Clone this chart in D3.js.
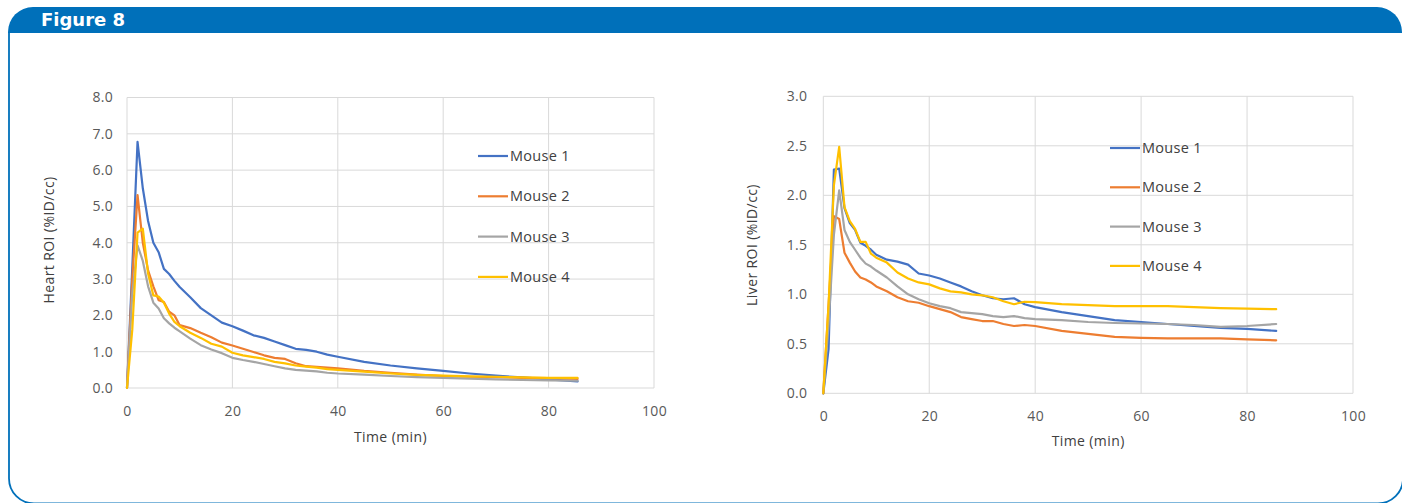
<!DOCTYPE html>
<html><head><meta charset="utf-8">
<script src="https://cdn.jsdelivr.net/npm/d3@7"></script>
<style>
html,body{margin:0;padding:0;background:#fff;}
svg{display:block;font-family:"Open Sans",Lato,sans-serif;}
</style></head>
<body><svg id="c" width="1402" height="503"></svg>
<script>
// ---- data ----
const seriesNames = ["Mouse 1", "Mouse 2", "Mouse 3", "Mouse 4"];
const seriesColors = ["#4472C4", "#ED7D31", "#A5A5A5", "#FFC000"];
const time = [0,1,2,3,4,5,6,7,8,9,10,12,14,16,18,20,22,24,26,28,30,32,34,36,38,40,45,50,55,60,65,70,75,80,85.5];

const heartMouse1 = [0,3.3,6.78,5.5,4.6,4.0,3.74,3.28,3.14,2.95,2.78,2.5,2.2,2.0,1.8,1.7,1.58,1.45,1.38,1.28,1.18,1.08,1.05,1.0,0.92,0.86,0.72,0.62,0.54,0.47,0.4,0.34,0.29,0.24,0.18];
const heartMouse2 = [0,3.0,5.31,4.0,3.24,2.8,2.42,2.37,2.1,2.0,1.73,1.65,1.52,1.4,1.25,1.17,1.08,0.99,0.9,0.83,0.8,0.68,0.6,0.58,0.56,0.54,0.47,0.42,0.37,0.33,0.31,0.3,0.28,0.27,0.25];
const heartMouse3 = [0,2.6,3.93,3.5,2.8,2.35,2.19,1.92,1.78,1.66,1.56,1.36,1.18,1.06,0.96,0.83,0.77,0.72,0.66,0.6,0.54,0.5,0.48,0.46,0.42,0.4,0.37,0.33,0.3,0.28,0.26,0.24,0.22,0.21,0.2];
const heartMouse4 = [0,1.6,4.28,4.39,3.15,2.55,2.52,2.35,2.05,1.82,1.7,1.52,1.38,1.22,1.14,0.97,0.9,0.85,0.8,0.72,0.68,0.62,0.59,0.56,0.52,0.5,0.45,0.4,0.36,0.34,0.32,0.31,0.29,0.28,0.28];

const liverMouse1 = [0,0.45,2.26,2.27,1.87,1.72,1.65,1.52,1.49,1.45,1.4,1.35,1.33,1.3,1.21,1.19,1.16,1.12,1.08,1.03,0.99,0.96,0.95,0.96,0.9,0.87,0.82,0.78,0.74,0.72,0.7,0.68,0.66,0.65,0.63];
const liverMouse2 = [0,0.9,1.79,1.76,1.42,1.32,1.23,1.17,1.15,1.12,1.08,1.03,0.97,0.93,0.915,0.88,0.85,0.82,0.77,0.75,0.73,0.73,0.7,0.68,0.69,0.68,0.63,0.6,0.57,0.56,0.555,0.555,0.555,0.545,0.535];
const liverMouse3 = [0,0.7,1.6,2.05,1.65,1.53,1.45,1.37,1.31,1.28,1.24,1.17,1.08,1.0,0.95,0.91,0.88,0.86,0.82,0.81,0.8,0.78,0.77,0.78,0.76,0.75,0.74,0.72,0.71,0.705,0.7,0.69,0.67,0.68,0.7];
const liverMouse4 = [0,0.9,2.1,2.49,1.88,1.74,1.66,1.53,1.53,1.41,1.37,1.32,1.22,1.16,1.12,1.1,1.06,1.03,1.02,1.0,0.99,0.97,0.93,0.9,0.925,0.92,0.9,0.89,0.88,0.88,0.88,0.87,0.86,0.855,0.85];

const xTicks = [0,20,40,60,80,100];
const heartYTicks = [0,1,2,3,4,5,6,7,8];
const liverYTicks = [0,0.5,1,1.5,2,2.5,3];

const figureTitle = "Figure 8";
const xTitle = "Time (min)";
const heartYTitle = "Heart ROI (%ID/cc)";
const liverYTitle = "Liver ROI (%ID/cc)";

// ---- drawing ----
const svg = d3.select("#c");
const blue = "#0070BA";
const r = 25;

// header bar
svg.append("path")
  .attr("d", `M8,33 L8,${7 + r} A${r},${r} 0 0 1 ${8 + r},7 L${1402 - r},7 A${r},${r} 0 0 1 1402,${7 + r} L1402,33 Z`)
  .attr("fill", blue);
// side borders + bottom corners (right/bottom edges fall at the canvas edge)
svg.append("path")
  .attr("d", `M9,33 L9,${503.5 - r} A${r},${r} 0 0 0 ${9 + r},503.5 L${1403 - r},503.5 A${r},${r} 0 0 0 1403,${503.5 - r} L1403,33`)
  .attr("fill", "none").attr("stroke", blue).attr("stroke-width", 1.8);
svg.append("text").attr("x", 41).attr("y", 26).text(figureTitle)
  .attr("fill", "#fff").attr("font-size", 18).attr("font-weight", "bold")
  .attr("font-family", "DejaVu Sans, sans-serif");

function drawChart(cfg) {
  const g = svg.append("g");
  const x = d3.scaleLinear().domain([0, 100]).range([cfg.x0, cfg.x1]);
  const y = d3.scaleLinear().domain([0, cfg.yMax]).range([cfg.y0, cfg.y1]);
  // gridlines
  g.append("g").selectAll("line").data(cfg.yTicks).join("line")
    .attr("x1", cfg.x0).attr("x2", cfg.x1).attr("y1", d => y(d)).attr("y2", d => y(d))
    .attr("stroke", "#d9d9d9").attr("stroke-width", 1);
  g.append("g").selectAll("line").data(xTicks).join("line")
    .attr("y1", cfg.y0).attr("y2", cfg.y1).attr("x1", d => x(d)).attr("x2", d => x(d))
    .attr("stroke", "#d9d9d9").attr("stroke-width", 1);
  // axes labels via d3 axes
  const ya = g.append("g").attr("transform", `translate(${cfg.x0},0)`)
    .call(d3.axisLeft(y).tickValues(cfg.yTicks).tickFormat(d3.format(".1f")).tickSize(0).tickPadding(cfg.yPad));
  const xa = g.append("g").attr("transform", `translate(0,${cfg.y0})`)
    .call(d3.axisBottom(x).tickValues(xTicks).tickFormat(d3.format("d")).tickSize(0).tickPadding(cfg.xPad));
  [ya, xa].forEach(a => {
    a.select(".domain").remove();
    a.selectAll("text").attr("font-size", 14).attr("fill", "#595959")
      .attr("font-family", "Open Sans, sans-serif").attr("letter-spacing", 0.3);
  });
  // titles
  g.append("text").attr("x", (cfg.x0 + cfg.x1) / 2 + cfg.xtOff).attr("y", cfg.xtY)
    .attr("text-anchor", "middle").attr("font-size", 14).attr("letter-spacing", 0.4)
    .attr("fill", "#404040").text(xTitle);
  g.append("text").attr("transform", `translate(${cfg.ytX},${cfg.ytY}) rotate(-90)`)
    .attr("text-anchor", "middle").attr("font-size", 14).attr("letter-spacing", 0.4)
    .attr("fill", "#404040").text(cfg.yTitle);
  // lines
  const line = d3.line().x((d, i) => x(time[i])).y(d => y(d));
  cfg.series.forEach((s, i) => {
    g.append("path").datum(s).attr("d", line).attr("fill", "none")
      .attr("stroke", seriesColors[i]).attr("stroke-width", 2.2)
      .attr("stroke-linejoin", "round").attr("stroke-linecap", "round");
  });
  // legend
  seriesNames.forEach((n, i) => {
    const ly = cfg.legY + i * cfg.legDy;
    g.append("line").attr("x1", cfg.legX).attr("x2", cfg.legX + 30).attr("y1", ly).attr("y2", ly)
      .attr("stroke", seriesColors[i]).attr("stroke-width", 2.2);
    g.append("text").attr("x", cfg.legX + 32).attr("y", ly + 5).text(n)
      .attr("font-size", 14.5).attr("letter-spacing", 0.3).attr("fill", "#404040");
  });
}

drawChart({
  x0: 127, x1: 654, y0: 388, y1: 97.5, yMax: 8, yTicks: heartYTicks,
  yPad: 14, xPad: 18, xtY: 442, xtOff: 0, ytX: 54, ytY: 240, yTitle: heartYTitle,
  series: [heartMouse1, heartMouse2, heartMouse3, heartMouse4],
  legX: 478, legY: 156, legDy: 40.3
});
drawChart({
  x0: 823.3, x1: 1353, y0: 393.3, y1: 96.3, yMax: 3, yTicks: liverYTicks,
  yPad: 16, xPad: 18, xtY: 446, xtOff: 0, ytX: 757, ytY: 245, yTitle: liverYTitle,
  series: [liverMouse1, liverMouse2, liverMouse3, liverMouse4],
  legX: 1110, legY: 148, legDy: 39.3
});
</script></body></html>
